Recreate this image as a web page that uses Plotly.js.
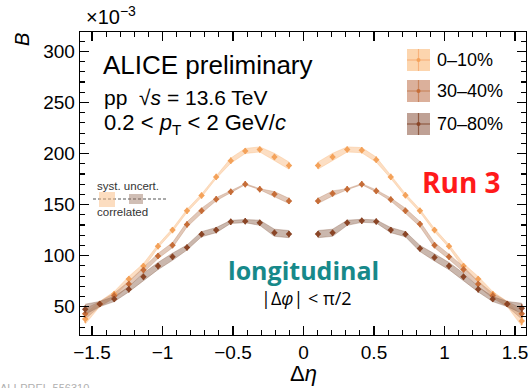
<!DOCTYPE html>
<html>
<head>
<meta charset="utf-8">
<script src="https://cdn.plot.ly/plotly-3.0.1.min.js"></script>
<style>
  html, body { margin: 0; padding: 0; background: #fff; }
  #chart { width: 531px; height: 388px; }
</style>
</head>
<body>
<div id="chart"></div>
<script>
// Δη bin centres (central bin excluded)
const deta = [-1.548, -1.445, -1.342, -1.239, -1.135, -1.032, -0.929, -0.826, -0.723, -0.619,
              -0.516, -0.413, -0.310, -0.206, -0.103,
               0.103,  0.206,  0.310,  0.413,  0.516,  0.619,  0.723,  0.826,  0.929,  1.032,
               1.135,  1.239,  1.342,  1.445,  1.548];

// Balance function B (x10^-3) per multiplicity class
const b0_10 = [38, 52.6, 62.4, 77.1, 89.8, 109.3, 125, 143.9, 158.9, 177.1,
               193, 202.5, 204, 196.7, 188.2,
               188.2, 196.7, 204, 203.3, 194, 177.1, 159.2, 143.9, 125, 109.3,
               89.8, 77.1, 62.4, 52.6, 36];
const b30_40 = [43, 52.6, 60.8, 72.2, 85.9, 99.6, 110.3, 130.6, 143.9, 155.3,
                162.5, 170, 165.1, 160.2, 153.6,
                153.6, 160.9, 165.1, 170, 163.4, 155, 143.9, 130.9, 110.3, 98.9,
                86.5, 72.2, 60.8, 52.6, 43];
const b70_80 = [47.5, 52.6, 57.5, 67, 79.3, 89.8, 98.9, 108, 121, 125,
                133.1, 133.8, 132.2, 122.4, 121.1,
                121.1, 122.4, 132.2, 134.1, 133.5, 125, 121, 107, 98.3, 89.8,
                79.3, 67, 57.5, 52.6, 48.4];

// statistical uncertainties
const stat0_10  = [4,3,3,3,3,3,3,3,3,3,3,3,3,3,3, 3,3,3,3,3,3,3,3,3,3,3,3,3,3,4];
const stat30_40 = [4,3,3,3,3,3,3,3,3,3,3,3,3,3,3, 3,3,3,3,3,3,3,3,3,3,3,3,3,3,4];
const stat70_80 = [4,3,3,3,3,3,3,3,3,3,3,3,3,3,3, 3,3,3,3,3,3,3,3,3,3,3,3,3,3,4];

// systematic uncertainties
const syst0_10  = [5,2.5,2.5,2.5,2.5,1.5,1.5,1.5,1.5,1.5,2.5,2.5,2.5,3.5,3.5, 3.5,3.5,2.5,2.5,2.5,1.5,1.5,1.5,1.5,1.5,2.5,2.5,2.5,2.5,5];
const syst30_40 = [5,2.5,2.5,2.5,2.5,2.5,2.5,2.5,2.5,1.5,1,0.5,0.5,2.5,2.5, 2.5,2.5,0.5,0.5,1,1.5,2.5,2.5,2.5,2.5,2.5,2.5,2.5,2.5,5];
const syst70_80 = [5,2.5,2.5,2.5,3.5,3.5,3.5,2.5,2.5,2.5,1.5,1.5,2.5,3.5,3.5, 3.5,3.5,2.5,1.5,1.5,2.5,2.5,3,3.5,3.5,3.5,2.5,2.5,2.5,5];

const classes = ['0–10%', '30–40%', '70–80%'];

const series = [
  {name: classes[0], y: b0_10,  stat: stat0_10,  syst: syst0_10,
   marker: '#f4a25a', band: 'rgba(250,190,135,0.5)', legendBox: '#fcd5ae', legendLine: '#f7b27c'},
  {name: classes[1], y: b30_40, stat: stat30_40, syst: syst30_40,
   marker: '#c66d38', band: 'rgba(196,145,115,0.5)', legendBox: '#dbb09b', legendLine: '#c98660'},
  {name: classes[2], y: b70_80, stat: stat70_80, syst: syst70_80,
   marker: '#8a4526', band: 'rgba(150,112,92,0.5)', legendBox: '#bfa195', legendLine: '#8f5a42'}
];

const traces = [];
// systematic bands, drawn separately for each side of the gap
series.forEach(s => {
  [[0, 15], [15, 30]].forEach(([a, b]) => {
    const xs = deta.slice(a, b);
    const hi = s.y.slice(a, b).map((v, i) => v + s.syst[a + i]);
    const lo = s.y.slice(a, b).map((v, i) => v - s.syst[a + i]);
    traces.push({
      type: 'scatter', mode: 'lines', fill: 'toself',
      x: xs.concat(xs.slice().reverse()),
      y: hi.concat(lo.slice().reverse()),
      fillcolor: s.band, line: {color: s.band, width: 0.8},
      showlegend: false, hoverinfo: 'skip'
    });
  });
});
// data points with statistical error bars
series.forEach(s => {
  traces.push({
    type: 'scatter', mode: 'markers', name: s.name,
    x: deta, y: s.y,
    marker: {symbol: 'diamond', size: 5, color: s.marker},
    error_y: {type: 'data', array: s.stat, visible: true, color: s.marker, thickness: 1.4, width: 0},
    showlegend: false
  });
});

// plot area in pixels
const L = 80, R = 526, T = 32, B = 335;
const px = x => (x - L) / (R - L);
const py = y => (B - y) / (B - T);

const txt = '#000';
const font = 'Liberation Sans, Arial, sans-serif';
const font2 = 'Open Sans, Lato, sans-serif';

const annotations = [
  {text: '×10<sup>−3</sup>', x: px(84), y: py(15), xanchor: 'left', yanchor: 'middle', font: {size: 20}},
  {text: '<i>B</i>', x: px(22), y: py(40), textangle: -90, xanchor: 'center', yanchor: 'middle', font: {size: 20}},
  {text: 'ALICE preliminary', x: px(101), y: py(65), xanchor: 'left', yanchor: 'middle', font: {size: 26}},
  {text: 'pp  √<i>s</i> = 13.6 TeV', x: px(102), y: py(97), xanchor: 'left', yanchor: 'middle', font: {size: 21}},
  {text: '0.2 &lt;&nbsp;<i>p</i><sub>T</sub>&nbsp;&lt; 2 GeV/<i>c</i>', x: px(102), y: py(124), xanchor: 'left', yanchor: 'middle', font: {size: 22}},
  {text: '<b>Run 3</b>', x: px(461), y: py(182), xanchor: 'center', yanchor: 'middle', font: {size: 28, color: '#ff1a1a', family: font2}},
  {text: '<b>longitudinal</b>', x: px(303), y: py(270), xanchor: 'center', yanchor: 'middle', font: {size: 25, color: '#17898a', family: font2}},
  {text: '|Δ<i>φ</i>| < π/2', x: px(306), y: py(298), xanchor: 'center', yanchor: 'middle', font: {size: 18, family: font2}},
  {text: 'Δ<i>η</i>', x: px(303), y: py(373), xanchor: 'center', yanchor: 'middle', font: {size: 22}},
  {text: 'syst. uncert.', x: px(95), y: py(186), xanchor: 'left', yanchor: 'middle', font: {size: 11.5, color: '#333'}},
  {text: 'correlated', x: px(95), y: py(212), xanchor: 'left', yanchor: 'middle', font: {size: 11.5, color: '#333'}},
  {text: 'ALI-PREL-556310', x: px(-2), y: py(380), xanchor: 'left', yanchor: 'top', font: {size: 11, color: '#b0b0b0'}}
];

const shapes = [
  // correlated systematic indicator
  {type: 'line', xref: 'paper', yref: 'paper', x0: px(93), x1: px(166), y0: py(199), y1: py(199),
   line: {color: '#555', width: 1, dash: '3px,2px'}},
  {type: 'rect', xref: 'paper', yref: 'paper', x0: px(99), x1: px(115), y0: py(207), y1: py(192),
   fillcolor: 'rgba(250,188,130,0.5)', line: {width: 0}},
  {type: 'rect', xref: 'paper', yref: 'paper', x0: px(129), x1: px(143), y0: py(204), y1: py(194),
   fillcolor: 'rgba(150,110,90,0.45)', line: {width: 0}}
];

// legend drawn as boxes with a point and cross
const legendRows = [60, 91, 124];
series.forEach((s, i) => {
  const cy = legendRows[i];
  shapes.push({type: 'rect', xref: 'paper', yref: 'paper', x0: px(407), x1: px(430), y0: py(cy + 11), y1: py(cy - 11),
               fillcolor: s.legendBox, line: {width: 0}});
  shapes.push({type: 'line', xref: 'paper', yref: 'paper', x0: px(407), x1: px(430), y0: py(cy), y1: py(cy),
               line: {color: s.legendLine, width: 1.2}});
  shapes.push({type: 'line', xref: 'paper', yref: 'paper', x0: px(418.5), x1: px(418.5), y0: py(cy + 11), y1: py(cy - 11),
               line: {color: s.legendLine, width: 1.2}});
  shapes.push({type: 'circle', xref: 'paper', yref: 'paper', x0: px(416.5), x1: px(420.5), y0: py(cy + 2), y1: py(cy - 2),
               fillcolor: s.marker, line: {width: 0}});
  annotations.push({text: s.name, x: px(435), y: py(cy), xanchor: 'left', yanchor: 'middle', font: {size: 18}});
});

annotations.forEach(a => { a.xref = 'paper'; a.yref = 'paper'; a.showarrow = false;
  a.font = Object.assign({family: font, color: txt}, a.font); });

const axisCommon = {
  showline: true, linecolor: '#000', linewidth: 1.3, mirror: 'allticks',
  ticks: 'inside', ticklen: 9, tickwidth: 1.3, tickcolor: '#000',
  showgrid: false, zeroline: false,
  tickfont: {family: font, size: 19, color: '#000'}
};

const layout = {
  width: 531, height: 388,
  margin: {l: L, r: 531 - R, t: T, b: 388 - B},
  paper_bgcolor: '#fff', plot_bgcolor: '#fff',
  showlegend: false,
  xaxis: Object.assign({}, axisCommon, {
    range: [-1.585, 1.578], dtick: 0.5, tick0: 0,
    minor: {dtick: 0.1, ticks: 'inside', ticklen: 5, tickwidth: 1.1, tickcolor: '#000', showgrid: false}
  }),
  yaxis: Object.assign({}, axisCommon, {
    range: [22.3, 319], dtick: 50, tick0: 0,
    minor: {dtick: 10, ticks: 'inside', ticklen: 5, tickwidth: 1.1, tickcolor: '#000', showgrid: false}
  }),
  annotations: annotations,
  shapes: shapes
};

Plotly.newPlot('chart', traces, layout, {displayModeBar: false, staticPlot: true});
</script>
</body>
</html>
